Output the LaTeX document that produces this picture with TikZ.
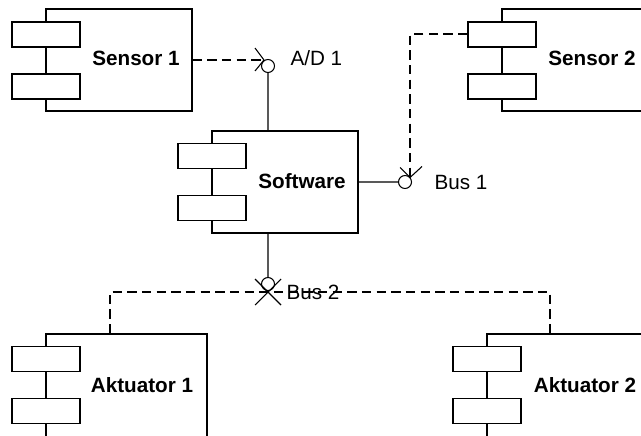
\documentclass[tikz,border=0pt]{standalone}
\usepackage{fontspec}
\setmainfont{Liberation Sans}
\usepackage{tikz}
\usepackage{xcolor}

\begin{document}
\begin{tikzpicture}[x=0.75pt,y=-0.75pt,line width=0.8pt,
	font=\fontsize{15.5}{18}\selectfont,
	comp/.style={draw,minimum width=109.5pt,minimum height=76.5pt,inner sep=0},
	wide/.style={comp,minimum width=120.75pt,minimum height=78pt},
	port/.style={draw,fill=white,minimum width=51pt,minimum height=18.75pt,inner sep=0},
	ball/.style={draw,circle,minimum size=9.75pt,inner sep=0},
	lbl/.style={font=\fontsize{15.5}{18}\selectfont\bfseries,inner sep=0},
	txt/.style={anchor=base west,inner sep=0},
	bus/.style={line width=1.5pt,dash pattern=on 7pt off 4pt}]
	\useasboundingbox (0,0) rectangle (641,435);
	\clip (0,0) rectangle (641,435);

	\node[comp] (s1) at (119,60) {};
	\node[port] (s1p1) at (46,34.5) {};
	\node[port] (s1p2) at (46,86.5) {};
	\node[lbl] (s1l) at (136,58) {Sensor 1};

	\node[comp] (s2) at (575,60) {};
	\node[port] (s2p1) at (502,34.5) {};
	\node[port] (s2p2) at (502,86.5) {};
	\node[lbl] (s2l) at (592,58) {Sensor 2};

	\node[comp] (sw) at (285,182) {};
	\node[port] (swp1) at (212,156) {};
	\node[port] (swp2) at (212,208) {};
	\node[lbl] (swl) at (302,181) {Software};

	\node[wide] (a1) at (126.5,386) {};
	\node[port] (a1p1) at (46,359) {};
	\node[port] (a1p2) at (46,411) {};
	\node[lbl] (a1l) at (142,385) {Aktuator 1};

	\node[wide] (a2) at (567.5,386) {};
	\node[port] (a2p1) at (487,359) {};
	\node[port] (a2p2) at (487,411) {};
	\node[lbl] (a2l) at (585,385) {Aktuator 2};

	\node[ball] (ad1) at (268,66) {};
	\node[ball] (bus1) at (405,182) {};
	\node[ball] (bus2) at (268,284) {};
	\coordinate (ad1v) at (264,60);
	\coordinate (bus1v) at (410,177.5);
	\coordinate (bus2v) at (268,292);

	\node[txt] (ad1l) at (290,65) {A/D 1};
	\node[txt] (bus1l) at (434,189) {Bus 1};
	\node[txt] (bus2l) at (286,299) {Bus 2};

	\draw
		(ad1 |- sw.north) -- (ad1.south)
		(sw.east) -- (bus1.west)
		(ad1 |- sw.south) -- (bus2.north)
		(ad1v) -- ++(-9,-12)
		(ad1v) -- ++(-9,11)
		(bus1v) -- ++(-10,-10)
		(bus1v) -- ++(12,-11)
		(bus2v) +(-13,-13) -- +(13,13)
		(bus2v) +(13,-13) -- +(-13,13)
	;
	\draw[bus] (s1.east) -- (ad1v);
	\draw[bus] (s2p1.west) -| (bus1v);
	\draw[bus] ([xshift=-12.375pt]a1.north) |- (bus2v) -| ([xshift=-13.125pt]a2.north);
\end{tikzpicture}
\end{document}
